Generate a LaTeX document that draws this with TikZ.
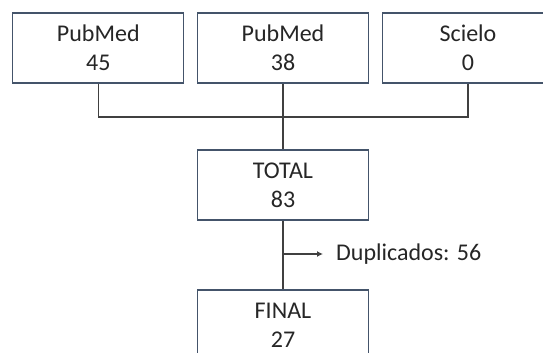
\documentclass[tikz,border=0pt]{standalone}
\usepackage{fontspec}
\setmainfont{Carlito}
\usetikzlibrary{arrows.meta}
\definecolor{boxline}{RGB}{68,84,106}
\definecolor{conn}{RGB}{64,64,64}
\begin{document}
\begin{tikzpicture}[x=1pt,y=1pt,
  box/.style={draw=boxline, line width=1.2pt, fill=white, minimum width=171pt, minimum height=70pt, inner sep=0pt, align=center, font=\fontsize{24}{29}\selectfont, text=black!85},
  link/.style={draw=conn, line width=1.3pt},
  lbl/.style={font=\fontsize{24}{29}\selectfont, text=black!85, inner xsep=13pt, inner ysep=0pt, anchor=west}]
\useasboundingbox (0,0) rectangle (543,353);
\node[box] (b1) at (98.3,305) {PubMed\\45};
\node[box] (b2) at (283,305) {PubMed\\38};
\node[box] (b3) at (468,305) {Scielo\\0};
\node[box] (tot) at (283,168) {TOTAL\\83};
\node[box] (fin) at (283,28) {FINAL\\27};
\coordinate (bus) at (283,236);
\coordinate (br) at (283,99);
\node[lbl] (dup) at (323,99) {Duplicados: 56};
\draw[link] (b1.south) |- (bus) -| (b3.south);
\draw[link] (b2.south) -- (tot.north);
\draw[link] (tot.south) -- (fin.north);
\draw[link, -{Latex[length=6pt,width=6pt]}] (br) -- (dup.west);
\end{tikzpicture}
\end{document}
